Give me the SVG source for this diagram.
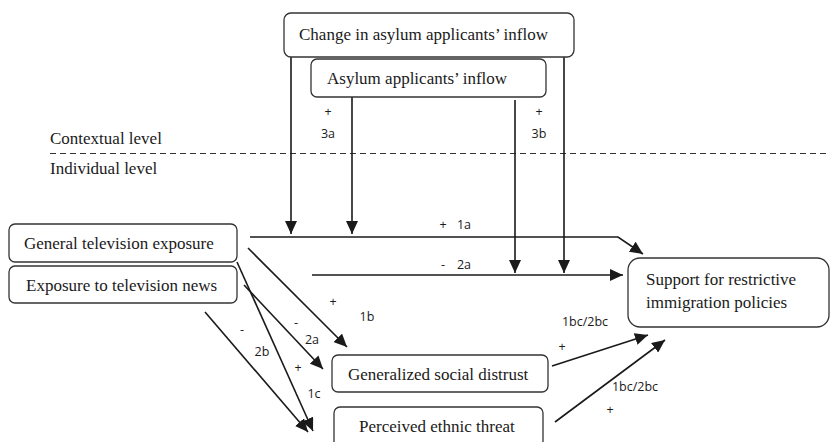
<svg xmlns="http://www.w3.org/2000/svg" width="830" height="442" viewBox="0 0 830 442">
<defs>
<marker id="ah" markerUnits="userSpaceOnUse" markerWidth="14" markerHeight="12" refX="13" refY="6" orient="auto">
<path d="M0,0 L13,6 L0,12 z" fill="#1a1a1a"/>
</marker>
<style>
.box{fill:#fff;stroke:#333;stroke-width:1.3}
.t{font-size:17px;fill:#1a1a1a}
.l{font-family:'Open Sans','Noto Sans',sans-serif;font-size:12.5px;fill:#1a1a1a;text-anchor:middle}
.a{fill:none;stroke:#1a1a1a;stroke-width:1.6;marker-end:url(#ah)}
</style>
</defs>
<rect width="830" height="442" fill="#fff"/>
<g id="levels" font-family="Liberation Serif, DejaVu Serif, serif">
<text class="t" x="50" y="144">Contextual level</text>
<line x1="50" y1="153.5" x2="830" y2="153.5" stroke="#333" stroke-width="1.2" stroke-dasharray="6,4"/>
<text class="t" x="50" y="174">Individual level</text>
</g>
<g id="connectors">
<line class="a" x1="291" y1="57" x2="291" y2="234"/>
<line class="a" x1="352" y1="97" x2="352" y2="234"/>
<line class="a" x1="515" y1="100" x2="515" y2="273"/>
<line class="a" x1="564" y1="57" x2="564" y2="273"/>
<polyline class="a" points="250,237 618,237 643,254"/>
<line class="a" x1="312" y1="275" x2="623" y2="275"/>
<line class="a" x1="248" y1="248" x2="347" y2="347"/>
<line class="a" x1="244" y1="285" x2="323" y2="369"/>
<line class="a" x1="237" y1="262" x2="313" y2="431"/>
<line class="a" x1="205" y1="312" x2="308" y2="432"/>
<line class="a" x1="552" y1="366" x2="648" y2="335"/>
<line class="a" x1="555" y1="422" x2="665" y2="340"/>
</g>
<g id="labels">
<text class="l" x="328" y="116">+</text>
<text class="l" x="328" y="138">3a</text>
<text class="l" x="539" y="116">+</text>
<text class="l" x="539" y="138">3b</text>
<text class="l" x="443" y="229">+</text>
<text class="l" x="464" y="229">1a</text>
<text class="l" x="443" y="269">-</text>
<text class="l" x="464" y="269">2a</text>
<text class="l" x="333" y="306">+</text>
<text class="l" x="367" y="321">1b</text>
<text class="l" x="296" y="327">-</text>
<text class="l" x="312" y="344">2a</text>
<text class="l" x="242" y="334">-</text>
<text class="l" x="262" y="356">2b</text>
<text class="l" x="298" y="372">+</text>
<text class="l" x="314" y="398">1c</text>
<text class="l" x="585" y="326">1bc/2bc</text>
<text class="l" x="562" y="351">+</text>
<text class="l" x="635" y="391">1bc/2bc</text>
<text class="l" x="610" y="414">+</text>
</g>
<g id="change-inflow" font-family="Liberation Serif">
<rect class="box" x="284" y="13" width="290" height="44" rx="7"/>
<text class="t" x="299" y="40">Change in asylum applicants’ inflow</text>
</g>
<g id="inflow" font-family="Liberation Serif">
<rect class="box" x="311" y="59" width="235" height="38" rx="6"/>
<text class="t" x="327" y="84">Asylum applicants’ inflow</text>
</g>
<g id="general-tv" font-family="Liberation Serif">
<rect class="box" x="9" y="224" width="228" height="38" rx="6"/>
<text class="t" x="24" y="249">General television exposure</text>
</g>
<g id="tv-news" font-family="Liberation Serif">
<rect class="box" x="9" y="266" width="228" height="37" rx="6"/>
<text class="t" x="26" y="291">Exposure to television news</text>
</g>
<g id="support" font-family="Liberation Serif">
<rect class="box" x="628" y="258" width="201" height="69" rx="12"/>
<text class="t" x="646" y="285">Support for restrictive</text>
<text class="t" x="646" y="308">immigration policies</text>
</g>
<g id="distrust" font-family="Liberation Serif">
<rect class="box" x="332" y="355" width="216" height="37" rx="6"/>
<text class="t" x="348" y="380">Generalized social distrust</text>
</g>
<g id="threat" font-family="Liberation Serif">
<rect class="box" x="334" y="407" width="209" height="40" rx="6"/>
<text class="t" x="359" y="432">Perceived ethnic threat</text>
</g>
</svg>
